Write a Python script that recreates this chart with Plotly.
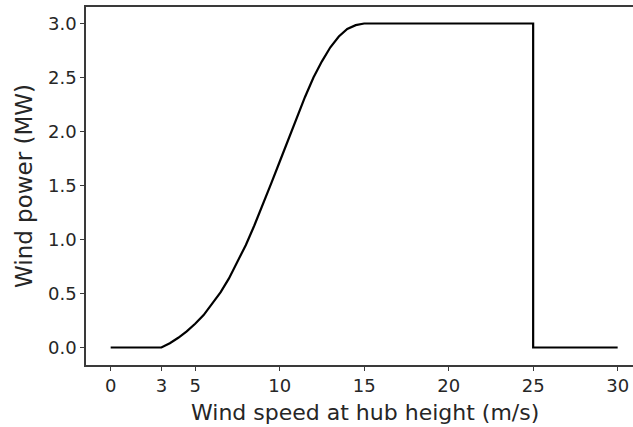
import plotly.graph_objects as go

# wind turbine power curve
wind_speed = [0, 3.0, 3.5, 4.0, 4.5, 5.0, 5.5, 6.0, 6.5, 7.0, 7.5, 8.0, 8.5, 9.0,
              9.5, 10.0, 10.5, 11.0, 11.5, 12.0, 12.5, 13.0, 13.5, 14.0, 14.5,
              15.0, 25.0, 25.0, 30.0]
power_mw = [0, 0, 0.04, 0.09, 0.15, 0.22, 0.30, 0.40, 0.51, 0.64, 0.79, 0.95, 1.13,
            1.32, 1.52, 1.72, 1.92, 2.12, 2.32, 2.50, 2.65, 2.78, 2.88, 2.95, 2.985,
            3.0, 3.0, 0, 0]

x_ticks = [0, 3, 5, 10, 15, 20, 25, 30]
y_ticks = [0.0, 0.5, 1.0, 1.5, 2.0, 2.5, 3.0]

FONT = "DejaVu Sans"
TEXT = "#262626"
SPINE = "#3a3a3a"

fig = go.Figure()
fig.add_trace(go.Scatter(
    x=wind_speed,
    y=power_mw,
    mode="lines",
    line=dict(color="black", width=2.2),
    showlegend=False,
))

# the reference is cropped on the right: the axes box runs past the window edge
fig.update_layout(
    width=643,
    height=427,
    paper_bgcolor="white",
    plot_bgcolor="white",
    margin=dict(l=86, r=0, t=7, b=62, autoexpand=False),
    font=dict(family=FONT, size=18, color=TEXT),
)

fig.update_xaxes(
    range=[-1.46, 31.5],
    tickvals=x_ticks,
    ticktext=[str(t) for t in x_ticks],
    ticks="outside",
    ticklen=4,
    tickwidth=1,
    tickcolor=SPINE,
    showgrid=False,
    zeroline=False,
    showline=True,
    linecolor=SPINE,
    linewidth=1.5,
    mirror=True,
    automargin=False,
)

fig.update_yaxes(
    range=[-0.162, 3.153],
    tickvals=y_ticks,
    ticktext=[f"{t:.1f}" for t in y_ticks],
    ticks="outside",
    ticklen=4,
    tickwidth=1,
    tickcolor=SPINE,
    showgrid=False,
    zeroline=False,
    showline=True,
    linecolor=SPINE,
    linewidth=1.5,
    automargin=False,
)

# axis titles as annotations so they sit where the reference has them
fig.add_annotation(
    text="Wind speed at hub height (m/s)",
    xref="paper", yref="paper", x=0.5, y=0,
    xanchor="center", yanchor="middle", yshift=-47,
    showarrow=False, font=dict(size=22, color=TEXT),
)
fig.add_annotation(
    text="Wind power (MW)",
    xref="paper", yref="paper", x=0, y=0.5,
    xanchor="center", yanchor="middle", xshift=-62,
    textangle=-90,
    showarrow=False, font=dict(size=23, color=TEXT),
)

fig.write_html(
    "out.html",
    config={"displayModeBar": False},
    post_script="document.body.style.margin='0'; document.body.style.overflow='hidden';",
)
